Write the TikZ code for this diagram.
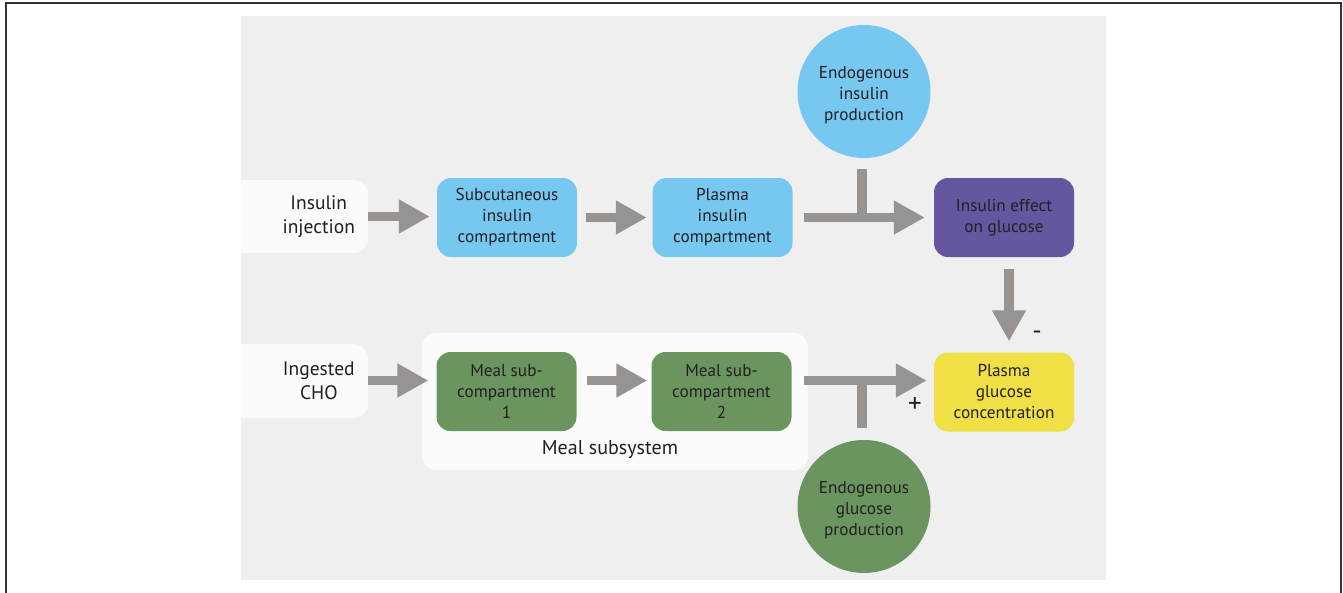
\documentclass[tikz,border=0pt]{standalone}
\usepackage{fontspec}
\setmainfont{PT Sans}
\usetikzlibrary{arrows.meta}
\definecolor{bgc}{HTML}{EFEFEF}
\definecolor{wbox}{HTML}{FBFBFB}
\definecolor{lblue}{HTML}{77C8F1}
\definecolor{purp}{HTML}{6656A0}
\definecolor{yell}{HTML}{F0DF45}
\definecolor{grn}{HTML}{6A955F}
\definecolor{txt}{HTML}{231F20}
\definecolor{arrc}{HTML}{969390}
\definecolor{frame}{HTML}{333333}
\begin{document}
\begin{tikzpicture}[x=1pt,y=-1pt,
  box/.style={rounded corners=14pt, minimum width=140pt, minimum height=79pt, align=center,
    font=\fontsize{17.2}{21}\selectfont, text=txt, inner sep=0pt},
  circ/.style={circle, minimum size=133pt, inner sep=0pt},
  ctext/.style={align=center, inner sep=0pt, font=\fontsize{17.2}{21}\selectfont, text=txt, yshift=-4pt},
  big/.style={align=center, font=\fontsize{19.5}{24}\selectfont, text=txt, inner sep=0pt},
  arr/.style={draw=arrc, line width=9.5pt, -{Triangle[length=31pt,width=32pt]}},
  stem/.style={draw=arrc, line width=9.5pt}
]
\useasboundingbox (0,0) rectangle (1343,592);
\fill[white] (0,0) rectangle (1343,592);
\draw[frame, line width=2pt] (5.5,600) -- (5.5,3) -- (1340.5,3) -- (1340.5,600);
\fill[bgc] (241,16) rectangle (1106,580);
\begin{scope}
  \clip (241,16) rectangle (1106,580);
  \fill[wbox, rounded corners=14pt] (220,180) rectangle (368,253);
  \fill[wbox, rounded corners=14pt] (220,344) rectangle (368,418);
\end{scope}
\node[big, anchor=east, minimum width=98pt] (inj) at (368,216.5) {Insulin\\injection};
\node[big, anchor=east, minimum width=98pt] (ing) at (368,380.5) {Ingested\\CHO};

\node[box, fill=wbox, minimum width=386pt, minimum height=137pt] (meal) at (615,401.5) {};
\node[big, font=\fontsize{20}{24}\selectfont] (meallbl) at (610,450) {Meal subsystem};

\node[box, fill=lblue] (sub) at (507,217.5) {Subcutaneous\\insulin\\compartment};
\node[box, fill=lblue] (pins) at (722.5,217.5) {Plasma\\insulin\\compartment};
\node[box, fill=purp] (ief) at (1004,217.5) {Insulin effect\\on glucose};
\node[box, fill=yell] (pgc) at (1004,392) {Plasma\\glucose\\concentration};
\node[box, fill=grn] (m1) at (506.5,391.5) {Meal sub-\\compartment\\1};
\node[box, fill=grn] (m2) at (721.5,391.5) {Meal sub-\\compartment\\2};
\node[circ, fill=lblue, label={[ctext]center:Endogenous\\insulin\\production}] (eip) at (864,91.5) {};
\node[circ, fill=grn, label={[ctext]center:Endogenous\\glucose\\production}] (egp) at (864,506.5) {};

% row 1
\draw[arr, shorten >=7pt] (inj.east) -- (inj.east -| sub.west);
\draw[arr, shorten <=9pt, shorten >=5.5pt] (sub.east) -- (pins.west);
\draw[arr, shorten <=11pt, shorten >=9pt] (pins.east) -- (ief.west);
\draw[stem] ([xshift=-2pt,yshift=-11pt]eip.south) -- ([xshift=-2pt]eip.south |- pins.east);
\draw[arr, shorten <=12pt, shorten >=11pt] ([xshift=5pt]ief.south) -- ([xshift=5pt]pgc.north);
% row 2
\draw[arr, shorten >=8pt] (ing.east) -- (ing.east -| m1.west);
\draw[arr, shorten <=10pt, shorten >=4pt] (ing.east -| m1.east) -- (ing.east -| m2.west);
\draw[arr, shorten <=12pt, shorten >=7pt] (ing.east -| m2.east) -- (ing.east -| pgc.west);
\draw[stem] ([xshift=-2pt,yshift=12pt]egp.north) -- ([xshift=-2pt]egp.north |- ing.east);

\node[big, font=\fontsize{26}{26}\selectfont] (minus) at (1037,335) {-};
\node[big, font=\fontsize{27}{27}\selectfont] (plus) at (915,405) {+};
\end{tikzpicture}
\end{document}
